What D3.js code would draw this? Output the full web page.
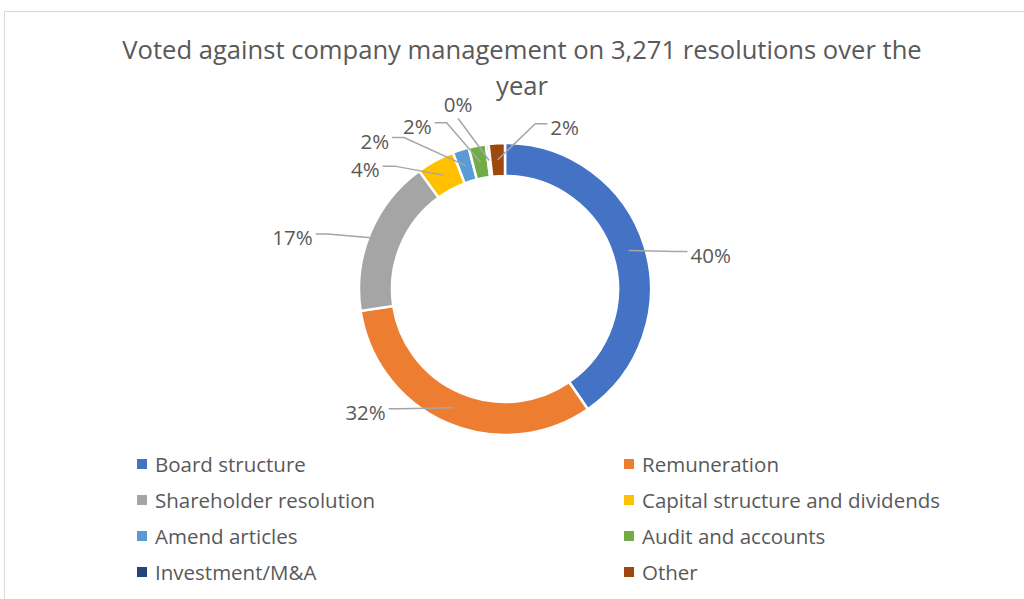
<!DOCTYPE html>
<html>
<head>
<meta charset="utf-8">
<script src="https://cdn.jsdelivr.net/npm/d3@7"></script>
<style>
  body { margin: 0; background: #fff; }
  text { font-family: "Open Sans", "Noto Sans", sans-serif; fill: #595959; }
</style>
</head>
<body>
<div id="chart"></div>
<script>
// DATA
const titleText = "Voted against company management on 3,271 resolutions over the year";
const categories = ["Board structure", "Remuneration", "Shareholder resolution",
  "Capital structure and dividends", "Amend articles", "Audit and accounts",
  "Investment/M&A", "Other"];
const shares = [40.4, 32.2, 17.4, 4.2, 1.8, 1.9, 0.3, 1.8];
const colors = ["#4472C4", "#ED7D31", "#A5A5A5", "#FFC000", "#5B9BD5", "#70AD47", "#264478", "#9E480E"];

// label placement relative to slice centroid (px)
const labelOffsets = [[82, 4], [-88, 4], [-93, -2], [-78, -6], [-91, -25], [-63, -36], [-31, -56], [67, -33]];

// CONSTANTS
const WIDTH = 1024;
const HEIGHT = 599;
const CX = 505, CY = 289;
const R_OUT = 146, R_IN = 113;

const svg = d3.select("#chart").append("svg")
  .attr("width", WIDTH).attr("height", HEIGHT);

// chart frame
svg.append("rect")
  .attr("x", 4.5).attr("y", 11.5)
  .attr("width", WIDTH + 20).attr("height", HEIGHT + 20)
  .attr("fill", "#fff").attr("stroke", "#D9D9D9");

// title (wrapped)
const TITLE_SIZE = 25.6;
const title = svg.append("text")
  .attr("text-anchor", "middle")
  .attr("font-size", TITLE_SIZE);
const words = titleText.split(" ");
let lines = [[]];
const probe = svg.append("text").attr("font-size", TITLE_SIZE);
words.forEach(w => {
  const cur = lines[lines.length - 1];
  probe.text(cur.concat(w).join(" "));
  if (cur.length && probe.node().getComputedTextLength() > 830) lines.push([w]);
  else cur.push(w);
});
probe.remove();
lines.forEach((l, i) => {
  title.append("tspan").attr("x", 522).attr("y", 59 + i * 36).text(l.join(" "));
});

// donut
const total = d3.sum(shares);
const pie = d3.pie().sort(null).value(d => d)(shares);
const arc = d3.arc().innerRadius(R_IN).outerRadius(R_OUT);
const midArc = d3.arc().innerRadius((R_IN + R_OUT) / 2).outerRadius((R_IN + R_OUT) / 2);

const g = svg.append("g").attr("transform", `translate(${CX},${CY})`);
g.selectAll("path.slice")
  .data(pie)
  .enter()
  .append("path")
  .attr("class", "slice")
  .attr("d", arc)
  .attr("fill", (d, i) => colors[i])
  .attr("stroke", "#fff")
  .attr("stroke-width", 2.5);

// labels + leader lines
const fmt = d3.format(".0%");
pie.forEach((d, i) => {
  const [cx, cy] = midArc.centroid(d);
  const [dx, dy] = labelOffsets[i];
  const lx = cx + dx, ly = cy + dy;
  const txt = g.append("text")
    .attr("x", lx).attr("y", ly)
    .attr("text-anchor", "middle")
    .attr("dominant-baseline", "central")
    .attr("font-size", 20.5)
    .text(fmt(d.data / total));
  const hw = txt.node().getComputedTextLength() / 2;
  let pts;
  if (Math.abs(dx) < 40) {
    pts = [[lx, ly + 14], [cx, cy]];
  } else {
    const side = dx > 0 ? -1 : 1;
    const ex = lx + side * (hw + 3);
    pts = [[ex, ly - 3], [ex + side * 12, ly - 3], [cx, cy]];
  }
  g.insert("path", "text")
    .attr("d", d3.line()(pts))
    .attr("fill", "none")
    .attr("stroke", "#A6A6A6")
    .attr("stroke-width", 1.5);
});

// legend
const legendCols = [137, 624];
const legend = svg.append("g");
categories.forEach((c, i) => {
  const x = legendCols[i % 2];
  const y = 464 + Math.floor(i / 2) * 36;
  legend.append("rect")
    .attr("x", x).attr("y", y - 5)
    .attr("width", 10).attr("height", 10)
    .attr("fill", colors[i]);
  legend.append("text")
    .attr("x", x + 18).attr("y", y)
    .attr("dominant-baseline", "central")
    .attr("font-size", 20.5)
    .text(c);
});
</script>
</body>
</html>
